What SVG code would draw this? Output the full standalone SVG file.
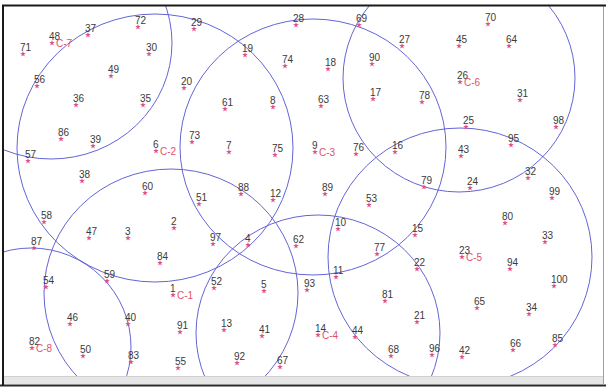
<svg xmlns="http://www.w3.org/2000/svg" xmlns:xlink="http://www.w3.org/1999/xlink" width="606" height="389" viewBox="0 0 606 389">
<style>
text{font-family:"Liberation Sans",Arial,sans-serif;font-size:10px;fill:#3a3a3a}
text.c{fill:#e0506a}
.ring{fill:none;stroke:#6464d8;stroke-width:1}
</style>
<defs>
<path id="st" d="M0,-3 L0.71,-0.97 L2.85,-0.93 L1.14,0.37 L1.76,2.43 L0,1.2 L-1.76,2.43 L-1.14,0.37 L-2.85,-0.93 L-0.71,-0.97 Z" fill="#dd5088"/>
<clipPath id="plot"><rect x="4" y="6" width="599" height="370"/></clipPath>
</defs>
<rect x="0" y="0" width="606" height="389" fill="#ffffff"/>
<g id="circles" clip-path="url(#plot)">
<ellipse class="ring" cx="171" cy="293" rx="127" ry="124"/>
<ellipse class="ring" cx="155" cy="148" rx="138" ry="134"/>
<ellipse class="ring" cx="313" cy="147" rx="133" ry="128"/>
<ellipse class="ring" cx="318" cy="333" rx="122" ry="118"/>
<ellipse class="ring" cx="460" cy="257" rx="132" ry="129"/>
<ellipse class="ring" cx="459" cy="78" rx="116" ry="114"/>
<ellipse class="ring" cx="51" cy="43" rx="121" ry="116"/>
<ellipse class="ring" cx="31" cy="347" rx="100" ry="99"/>
</g>
<g id="points">
<g id="p1"><use href="#st" x="173" y="295"/><text x="170" y="292">1</text><text class="c" x="177" y="299">C-1</text></g>
<g id="p2"><use href="#st" x="174" y="228"/><text x="171" y="225">2</text></g>
<g id="p3"><use href="#st" x="128" y="238"/><text x="125" y="235">3</text></g>
<g id="p4"><use href="#st" x="248" y="245"/><text x="245" y="242">4</text></g>
<g id="p5"><use href="#st" x="264" y="291"/><text x="261" y="288">5</text></g>
<g id="p6"><use href="#st" x="156" y="151"/><text x="153" y="148">6</text><text class="c" x="160" y="155">C-2</text></g>
<g id="p7"><use href="#st" x="229" y="152"/><text x="226" y="149">7</text></g>
<g id="p8"><use href="#st" x="273" y="107"/><text x="270" y="104">8</text></g>
<g id="p9"><use href="#st" x="315" y="152"/><text x="312" y="149">9</text><text class="c" x="319" y="156">C-3</text></g>
<g id="p10"><use href="#st" x="338" y="229"/><text x="335" y="226">10</text></g>
<g id="p11"><use href="#st" x="336" y="277"/><text x="333" y="274">11</text></g>
<g id="p12"><use href="#st" x="273" y="200"/><text x="270" y="197">12</text></g>
<g id="p13"><use href="#st" x="224" y="330"/><text x="221" y="327">13</text></g>
<g id="p14"><use href="#st" x="318" y="335"/><text x="315" y="332">14</text><text class="c" x="322" y="339">C-4</text></g>
<g id="p15"><use href="#st" x="415" y="235"/><text x="412" y="232">15</text></g>
<g id="p16"><use href="#st" x="395" y="152"/><text x="392" y="149">16</text></g>
<g id="p17"><use href="#st" x="373" y="99"/><text x="370" y="96">17</text></g>
<g id="p18"><use href="#st" x="328" y="69"/><text x="325" y="66">18</text></g>
<g id="p19"><use href="#st" x="245" y="55"/><text x="242" y="52">19</text></g>
<g id="p20"><use href="#st" x="184" y="88"/><text x="181" y="85">20</text></g>
<g id="p21"><use href="#st" x="417" y="322"/><text x="414" y="319">21</text></g>
<g id="p22"><use href="#st" x="417" y="269"/><text x="414" y="266">22</text></g>
<g id="p23"><use href="#st" x="462" y="257"/><text x="459" y="254">23</text><text class="c" x="466" y="261">C-5</text></g>
<g id="p24"><use href="#st" x="470" y="188"/><text x="467" y="185">24</text></g>
<g id="p25"><use href="#st" x="466" y="127"/><text x="463" y="124">25</text></g>
<g id="p26"><use href="#st" x="460" y="82"/><text x="457" y="79">26</text><text class="c" x="464" y="86">C-6</text></g>
<g id="p27"><use href="#st" x="402" y="46"/><text x="399" y="43">27</text></g>
<g id="p28"><use href="#st" x="296" y="25"/><text x="293" y="22">28</text></g>
<g id="p29"><use href="#st" x="194" y="29"/><text x="191" y="26">29</text></g>
<g id="p30"><use href="#st" x="149" y="54"/><text x="146" y="51">30</text></g>
<g id="p31"><use href="#st" x="520" y="100"/><text x="517" y="97">31</text></g>
<g id="p32"><use href="#st" x="528" y="178"/><text x="525" y="175">32</text></g>
<g id="p33"><use href="#st" x="545" y="242"/><text x="542" y="239">33</text></g>
<g id="p34"><use href="#st" x="529" y="314"/><text x="526" y="311">34</text></g>
<g id="p35"><use href="#st" x="143" y="105"/><text x="140" y="102">35</text></g>
<g id="p36"><use href="#st" x="76" y="105"/><text x="73" y="102">36</text></g>
<g id="p37"><use href="#st" x="88" y="35"/><text x="85" y="32">37</text></g>
<g id="p38"><use href="#st" x="82" y="181"/><text x="79" y="178">38</text></g>
<g id="p39"><use href="#st" x="93" y="146"/><text x="90" y="143">39</text></g>
<g id="p40"><use href="#st" x="128" y="324"/><text x="125" y="321">40</text></g>
<g id="p41"><use href="#st" x="262" y="336"/><text x="259" y="333">41</text></g>
<g id="p42"><use href="#st" x="462" y="357"/><text x="459" y="354">42</text></g>
<g id="p43"><use href="#st" x="461" y="156"/><text x="458" y="153">43</text></g>
<g id="p44"><use href="#st" x="355" y="337"/><text x="352" y="334">44</text></g>
<g id="p45"><use href="#st" x="459" y="46"/><text x="456" y="43">45</text></g>
<g id="p46"><use href="#st" x="70" y="324"/><text x="67" y="321">46</text></g>
<g id="p47"><use href="#st" x="89" y="238"/><text x="86" y="235">47</text></g>
<g id="p48"><use href="#st" x="52" y="43"/><text x="49" y="40">48</text><text class="c" x="56" y="47">C-7</text></g>
<g id="p49"><use href="#st" x="111" y="76"/><text x="108" y="73">49</text></g>
<g id="p50"><use href="#st" x="83" y="356"/><text x="80" y="353">50</text></g>
<g id="p51"><use href="#st" x="199" y="204"/><text x="196" y="201">51</text></g>
<g id="p52"><use href="#st" x="214" y="288"/><text x="211" y="285">52</text></g>
<g id="p53"><use href="#st" x="369" y="205"/><text x="366" y="202">53</text></g>
<g id="p54"><use href="#st" x="46" y="287"/><text x="43" y="284">54</text></g>
<g id="p55"><use href="#st" x="178" y="368"/><text x="175" y="365">55</text></g>
<g id="p56"><use href="#st" x="37" y="86"/><text x="34" y="83">56</text></g>
<g id="p57"><use href="#st" x="28" y="161"/><text x="25" y="158">57</text></g>
<g id="p58"><use href="#st" x="44" y="222"/><text x="41" y="219">58</text></g>
<g id="p59"><use href="#st" x="107" y="281"/><text x="104" y="278">59</text></g>
<g id="p60"><use href="#st" x="145" y="193"/><text x="142" y="190">60</text></g>
<g id="p61"><use href="#st" x="225" y="109"/><text x="222" y="106">61</text></g>
<g id="p62"><use href="#st" x="296" y="246"/><text x="293" y="243">62</text></g>
<g id="p63"><use href="#st" x="321" y="106"/><text x="318" y="103">63</text></g>
<g id="p64"><use href="#st" x="509" y="46"/><text x="506" y="43">64</text></g>
<g id="p65"><use href="#st" x="477" y="308"/><text x="474" y="305">65</text></g>
<g id="p66"><use href="#st" x="513" y="350"/><text x="510" y="347">66</text></g>
<g id="p67"><use href="#st" x="280" y="367"/><text x="277" y="364">67</text></g>
<g id="p68"><use href="#st" x="391" y="356"/><text x="388" y="353">68</text></g>
<g id="p69"><use href="#st" x="359" y="25"/><text x="356" y="22">69</text></g>
<g id="p70"><use href="#st" x="488" y="24"/><text x="485" y="21">70</text></g>
<g id="p71"><use href="#st" x="23" y="54"/><text x="20" y="51">71</text></g>
<g id="p72"><use href="#st" x="138" y="27"/><text x="135" y="24">72</text></g>
<g id="p73"><use href="#st" x="192" y="142"/><text x="189" y="139">73</text></g>
<g id="p74"><use href="#st" x="285" y="66"/><text x="282" y="63">74</text></g>
<g id="p75"><use href="#st" x="275" y="155"/><text x="272" y="152">75</text></g>
<g id="p76"><use href="#st" x="356" y="154"/><text x="353" y="151">76</text></g>
<g id="p77"><use href="#st" x="377" y="254"/><text x="374" y="251">77</text></g>
<g id="p78"><use href="#st" x="422" y="102"/><text x="419" y="99">78</text></g>
<g id="p79"><use href="#st" x="424" y="187"/><text x="421" y="184">79</text></g>
<g id="p80"><use href="#st" x="505" y="223"/><text x="502" y="220">80</text></g>
<g id="p81"><use href="#st" x="385" y="301"/><text x="382" y="298">81</text></g>
<g id="p82"><use href="#st" x="32" y="348"/><text x="29" y="345">82</text><text class="c" x="36" y="352">C-8</text></g>
<g id="p83"><use href="#st" x="131" y="362"/><text x="128" y="359">83</text></g>
<g id="p84"><use href="#st" x="160" y="263"/><text x="157" y="260">84</text></g>
<g id="p85"><use href="#st" x="555" y="345"/><text x="552" y="342">85</text></g>
<g id="p86"><use href="#st" x="61" y="139"/><text x="58" y="136">86</text></g>
<g id="p87"><use href="#st" x="34" y="248"/><text x="31" y="245">87</text></g>
<g id="p88"><use href="#st" x="241" y="194"/><text x="238" y="191">88</text></g>
<g id="p89"><use href="#st" x="325" y="194"/><text x="322" y="191">89</text></g>
<g id="p90"><use href="#st" x="372" y="64"/><text x="369" y="61">90</text></g>
<g id="p91"><use href="#st" x="180" y="332"/><text x="177" y="329">91</text></g>
<g id="p92"><use href="#st" x="237" y="363"/><text x="234" y="360">92</text></g>
<g id="p93"><use href="#st" x="307" y="290"/><text x="304" y="287">93</text></g>
<g id="p94"><use href="#st" x="510" y="269"/><text x="507" y="266">94</text></g>
<g id="p95"><use href="#st" x="511" y="145"/><text x="508" y="142">95</text></g>
<g id="p96"><use href="#st" x="432" y="355"/><text x="429" y="352">96</text></g>
<g id="p97"><use href="#st" x="213" y="244"/><text x="210" y="241">97</text></g>
<g id="p98"><use href="#st" x="556" y="127"/><text x="553" y="124">98</text></g>
<g id="p99"><use href="#st" x="552" y="198"/><text x="549" y="195">99</text></g>
<g id="p100"><use href="#st" x="554" y="286"/><text x="551" y="283">100</text></g>
</g>
<g id="frame">
<rect x="4" y="376" width="600" height="8" fill="#e6e6e6"/>
<line x1="4" y1="376.5" x2="604" y2="376.5" stroke="#d0d0d0" stroke-width="1"/>
<line x1="0" y1="385.5" x2="606" y2="385.5" stroke="#2a2a2a" stroke-width="2"/>
<line x1="603.5" y1="6" x2="603.5" y2="385" stroke="#a0a0a0" stroke-width="1"/>
<line x1="2" y1="5.5" x2="606" y2="5.5" stroke="#1a1a1a" stroke-width="2"/>
<line x1="3" y1="5" x2="3" y2="386" stroke="#1a1a1a" stroke-width="2"/>
</g>
</svg>
